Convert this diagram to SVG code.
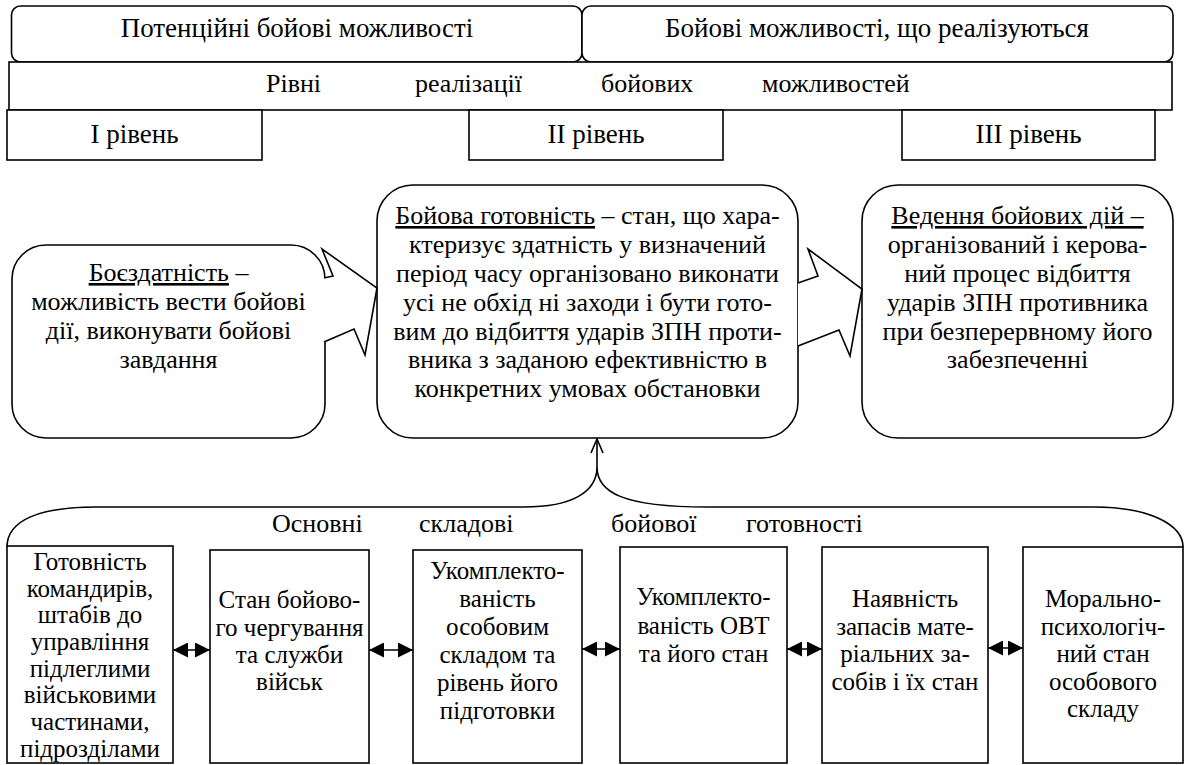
<svg xmlns="http://www.w3.org/2000/svg" width="1186" height="765" viewBox="0 0 1186 765">
<defs>
<style>
.b{fill:#fff;stroke:#000;stroke-width:1.6}
.t{font-family:'Liberation Serif','Times New Roman',serif;font-size:26px;fill:#000}
.c{text-anchor:middle}
.s{font-size:25px}
.l{font-size:27px}
.ln{fill:none;stroke:#000;stroke-width:1.6}
.u{text-decoration:underline}
</style>
<marker id="dh" viewBox="0 0 10 10" refX="10" refY="5" markerWidth="16" markerHeight="15" markerUnits="userSpaceOnUse" orient="auto-start-reverse">
<path d="M0,0 L10,5 L0,10 Z" fill="#000"/>
</marker>
</defs>
<rect width="1186" height="765" fill="#fff"/>

<g id="potential">
<rect class="b" x="11.5" y="6" width="570.5" height="56" rx="9"/>
<text class="t l c" x="297" y="37">Потенційні бойові можливості</text>
</g>
<g id="realized">
<rect class="b" x="582" y="6" width="591" height="56" rx="9"/>
<text class="t l c" x="877" y="37">Бойові можливості, що реалізуються</text>
</g>
<g id="levels">
<rect class="b" x="9" y="62" width="1163" height="48"/>
<text class="t" x="266" y="92">Рівні</text>
<text class="t" x="415" y="92">реалізації</text>
<text class="t" x="601" y="92">бойових</text>
<text class="t" x="762" y="92">можливостей</text>
</g>
<g id="level1">
<rect class="b" x="7" y="110" width="255" height="50"/>
<text class="t l c" x="134.5" y="143">I рівень</text>
</g>
<g id="level2">
<rect class="b" x="469" y="110" width="254" height="50"/>
<text class="t l c" x="596" y="143">II рівень</text>
</g>
<g id="level3">
<rect class="b" x="902" y="110" width="253" height="50"/>
<text class="t l c" x="1028.5" y="143">III рівень</text>
</g>

<g id="combat-capability">
<rect class="b" x="12" y="245" width="313" height="193" rx="34"/>
<text class="t c" x="168.5"><tspan x="168.5" y="281"><tspan class="u">Боєздатність</tspan> –</tspan><tspan x="168.5" y="310">можливість вести бойові</tspan><tspan x="168.5" y="339">дії, виконувати бойові</tspan><tspan x="168.5" y="368">завдання</tspan></text>
</g>
<g id="combat-readiness">
<rect class="b" x="377" y="185" width="421" height="253" rx="36"/>
<text class="t c" x="587.5"><tspan x="587.5" y="224"><tspan class="u">Бойова готовність</tspan> – стан, що хара-</tspan><tspan x="587.5" y="253">ктеризує здатність у визначений</tspan><tspan x="587.5" y="282">період часу організовано виконати</tspan><tspan x="587.5" y="311">усі не обхід ні заходи і бути гото-</tspan><tspan x="587.5" y="340">вим до відбиття ударів ЗПН проти-</tspan><tspan x="587.5" y="368">вника з заданою ефективністю в</tspan><tspan x="587.5" y="397">конкретних умовах обстановки</tspan></text>
</g>
<g id="combat-actions">
<rect class="b" x="862" y="185" width="311" height="253" rx="36"/>
<text class="t c" x="1017.5"><tspan x="1017.5" y="224" class="u">Ведення бойових дій –</tspan><tspan x="1017.5" y="253">організований і керова-</tspan><tspan x="1017.5" y="282">ний процес відбиття</tspan><tspan x="1017.5" y="311">ударів ЗПН противника</tspan><tspan x="1017.5" y="340">при безперервному його</tspan><tspan x="1017.5" y="368">забезпеченні</tspan></text>
</g>

<g id="comp1">
<rect class="b" x="7" y="546" width="166" height="217"/>
<text class="t s c"><tspan x="90" y="570">Готовність</tspan><tspan x="90" y="597">командирів,</tspan><tspan x="90" y="623">штабів до</tspan><tspan x="90" y="650">управління</tspan><tspan x="90" y="677">підлеглими</tspan><tspan x="90" y="703">військовими</tspan><tspan x="90" y="730">частинами,</tspan><tspan x="90" y="757">підрозділами</tspan></text>
</g>
<g id="comp2">
<rect class="b" x="210" y="550" width="159" height="213"/>
<text class="t s c"><tspan x="289.5" y="608">Стан бойово-</tspan><tspan x="289.5" y="636">го чергування</tspan><tspan x="289.5" y="663">та служби</tspan><tspan x="289.5" y="690">військ</tspan></text>
</g>
<g id="comp3">
<rect class="b" x="413" y="550" width="169" height="213"/>
<text class="t s c"><tspan x="497.5" y="579">Укомплекто-</tspan><tspan x="497.5" y="607">ваність</tspan><tspan x="497.5" y="635">особовим</tspan><tspan x="497.5" y="663">складом та</tspan><tspan x="497.5" y="691">рівень його</tspan><tspan x="497.5" y="719">підготовки</tspan></text>
</g>
<g id="comp4">
<rect class="b" x="620" y="547" width="167" height="216"/>
<text class="t s c"><tspan x="703.5" y="605">Укомплекто-</tspan><tspan x="703.5" y="634">ваність ОВТ</tspan><tspan x="703.5" y="662">та його стан</tspan></text>
</g>
<g id="comp5">
<rect class="b" x="822" y="547" width="166" height="216"/>
<text class="t s c"><tspan x="905" y="607">Наявність</tspan><tspan x="905" y="635">запасів мате-</tspan><tspan x="905" y="662">ріальних за-</tspan><tspan x="905" y="690">собів і їх стан</tspan></text>
</g>
<g id="comp6">
<rect class="b" x="1023" y="547" width="160" height="216"/>
<text class="t s c"><tspan x="1103" y="607">Морально-</tspan><tspan x="1103" y="635">психологіч-</tspan><tspan x="1103" y="662">ний стан</tspan><tspan x="1103" y="690">особового</tspan><tspan x="1103" y="717">складу</tspan></text>
</g>

<g id="connectors">
<polyline class="b" points="324,278 333,276 322,249 377,288 365,355 354,329 324,342"/>
<polyline class="b" points="798,283 818,276 808,249 862,289 850,356 839,330 798,346"/>
<path class="ln" d="M7,547 C7,520 40,507 96,507 L524,507 C572,507 597,492 597,467 C597,492 622,507 707,507 L1094,507 C1150,507 1183,525 1183,547"/>
<path class="ln" d="M597,467 L597,439"/>
<path class="ln" d="M591,453 L597,439 L603,453"/>
<text class="t" x="272" y="532">Основні</text>
<text class="t" x="419" y="532">складові</text>
<text class="t" x="611" y="532">бойової</text>
<text class="t" x="746" y="532">готовності</text>
<path class="ln" d="M173,650 L210,650" marker-start="url(#dh)" marker-end="url(#dh)"/>
<path class="ln" d="M369,650 L413,650" marker-start="url(#dh)" marker-end="url(#dh)"/>
<path class="ln" d="M582,649 L620,649" marker-start="url(#dh)" marker-end="url(#dh)"/>
<path class="ln" d="M787,649 L822,649" marker-start="url(#dh)" marker-end="url(#dh)"/>
<path class="ln" d="M988,648 L1023,648" marker-start="url(#dh)" marker-end="url(#dh)"/>
</g>
</svg>
